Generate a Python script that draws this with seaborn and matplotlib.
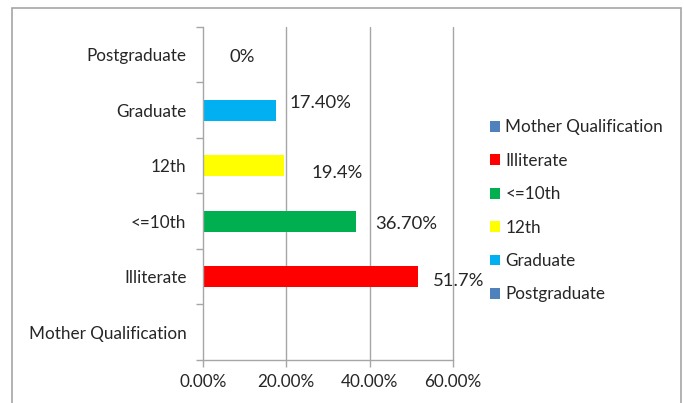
import pandas as pd
import matplotlib
matplotlib.use("Agg")
import matplotlib.pyplot as plt
import seaborn as sns
from matplotlib.patches import Patch, Rectangle
from matplotlib.ticker import PercentFormatter

# data (top to bottom)
categories = ["Postgraduate", "Graduate", "12th", "<=10th", "Illiterate", "Mother Qualification"]
values = [0.0, 17.4, 19.4, 36.7, 51.7, None]
value_labels = ["0%", "17.40%", "19.4%", "36.70%", "51.7%", ""]
colors = ["#4F81BD", "#00B0F0", "#FFFF00", "#00B050", "#FF0000", "#4F81BD"]
legend_order = ["Mother Qualification", "Illiterate", "<=10th", "12th", "Graduate", "Postgraduate"]

df = pd.DataFrame({"category": categories, "value": values}).dropna()
palette = dict(zip(categories, colors))

sns.set_style("white")
plt.rcParams["font.family"] = ["Lato", "DejaVu Sans"]

fig = plt.figure(figsize=(6.84, 4.03), dpi=100)
ax = fig.add_axes([0.297, 0.107, 0.365, 0.826])

sns.barplot(data=df, x="value", y="category", hue="category", order=categories,
            palette=palette, width=0.38, saturation=1, linewidth=0, legend=False, ax=ax)

# data labels, nudged like the original
offsets = [(19, -1.4), (10, 5), (20, -5.4), (13.7, -1.8), (10.8, -2.9), (0, 0)]
for i, (val, lab) in enumerate(zip(values, value_labels)):
    if val is None:
        continue
    ax.annotate(lab, xy=(val, i), xytext=offsets[i], textcoords="offset points",
                ha="left", va="center", fontsize=13.3, color="#262626")

ax.set_xlim(0, 60)
ax.set_ylim(len(categories) - 0.5, -0.5)
ax.set_xticks([0, 20, 40, 60])
ax.xaxis.set_major_formatter(PercentFormatter(decimals=2))
ax.set_xlabel("")
ax.set_ylabel("")
for x in [20, 40, 60]:
    ax.axvline(x, color="#A6A6A6", linewidth=1, zorder=0, clip_on=False)

for s in ["top", "right"]:
    ax.spines[s].set_visible(False)
for s in ["left", "bottom"]:
    ax.spines[s].set_color("#A6A6A6")
    ax.spines[s].set_linewidth(1)

ax.set_yticks([i for i in range(len(categories))])
ax.set_yticklabels(categories)
ax.tick_params(axis="y", length=0, pad=12, labelsize=12.3, labelcolor="#262626")
ax.tick_params(axis="x", length=5, width=1, color="#A6A6A6", pad=5, labelsize=12.3,
               labelcolor="#262626", bottom=True)
# category boundary tick marks on the y axis
ax.set_yticks([i - 0.5 for i in range(len(categories) + 1)], minor=True)
ax.tick_params(axis="y", which="minor", length=5, width=1, color="#A6A6A6", left=True)

handles = [Patch(facecolor=palette[c], edgecolor="none") for c in legend_order]
fig.legend(handles, legend_order, loc="upper left", bbox_to_anchor=(0.694, 0.742),
           frameon=False, fontsize=12.3, handlelength=0.6, handleheight=0.6,
           handletextpad=0.3, labelspacing=1.02, labelcolor="#262626")

# chart frame (open at the bottom, like the cropped original)
fig.patches.append(Rectangle((12 / 684, -10 / 403), 669 / 684, 405 / 403,
                             transform=fig.transFigure, fill=False,
                             edgecolor="#A6A6A6", linewidth=1.2))

fig.savefig("out.png", dpi=100)
